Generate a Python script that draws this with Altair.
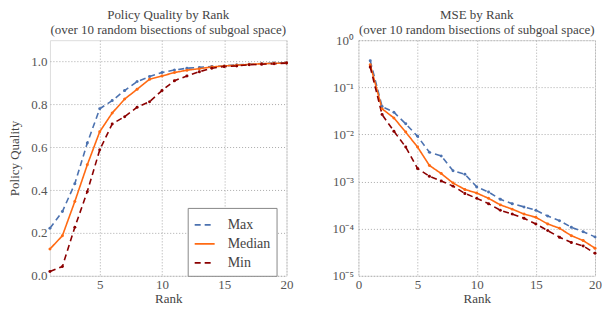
import altair as alt
import pandas as pd

series = ["Max", "Median", "Min"]
colors = ["#4C72B0", "#FF6A13", "#8B0000"]
dashes = [[6, 4], [1, 0], [6, 4]]

rank_q = list(range(1, 21))
q_max = [0.222, 0.30, 0.43, 0.62, 0.78, 0.818, 0.865, 0.907, 0.93, 0.949,
         0.961, 0.969, 0.973, 0.977, 0.98, 0.985, 0.988, 0.991, 0.993, 0.995]
q_med = [0.125, 0.187, 0.347, 0.518, 0.673, 0.76, 0.825, 0.871, 0.918, 0.933,
         0.949, 0.96, 0.967, 0.975, 0.98, 0.983, 0.987, 0.99, 0.992, 0.993]
q_min = [0.02, 0.043, 0.227, 0.393, 0.588, 0.709, 0.743, 0.787, 0.813, 0.865,
         0.911, 0.933, 0.953, 0.969, 0.977, 0.98, 0.985, 0.988, 0.99, 0.993]

rank_m = list(range(1, 21))
m_max = [0.365, 0.039, 0.0296, 0.0168, 0.0091, 0.0042, 0.0035, 0.0017, 0.00143, 0.00077,
         0.0006, 0.00042, 0.00034, 0.00029, 0.000246, 0.000185, 0.000148, 0.000107, 0.000086, 0.000067]
m_med = [0.30, 0.035, 0.0224, 0.0112, 0.0054, 0.0022, 0.00148, 0.00093, 0.00068, 0.00057,
         0.00044, 0.00032, 0.00026, 0.000204, 0.000174, 0.000126, 0.000102, 0.000071, 0.000056, 0.0000385]
m_min = [0.27, 0.0264, 0.0117, 0.0054, 0.0019, 0.0013, 0.00103, 0.0008, 0.00056, 0.00044,
         0.00034, 0.000246, 0.000204, 0.000166, 0.000126, 0.000091, 0.000066, 0.000051, 0.000043, 0.00003]

def long(ranks, cols):
    rows = []
    for name, vals in zip(series, cols):
        for r, v in zip(ranks, vals):
            rows.append({"Rank": r, "value": v, "series": name})
    return pd.DataFrame(rows)

dq = long(rank_q, [q_max, q_med, q_min])
dm = long(rank_m, [m_max, m_med, m_min])

FONT = "Liberation Serif"
W, H = 237, 236

def legend(x, y):
    return alt.Legend(title=None, orient="none", legendX=x, legendY=y,
                      symbolType="stroke", symbolSize=400, symbolStrokeWidth=1.8,
                      labelFontSize=14, labelFont=FONT, labelColor="#444",
                      strokeColor="#888", fillColor="white", padding=6,
                      rowPadding=1, cornerRadius=0, labelOffset=12)

def panel(df, title, yenc, x_scale, x_axis, leg, dy):
    color = alt.Color("series:N", scale=alt.Scale(domain=series, range=colors), legend=leg)
    dash = alt.StrokeDash("series:N", scale=alt.Scale(domain=series, range=dashes), legend=leg)
    base = alt.Chart(df).encode(
        x=alt.X("Rank:Q", scale=x_scale, axis=x_axis),
        y=yenc,
        color=color,
    )
    lines = base.mark_line(strokeWidth=1.6).encode(strokeDash=dash)
    pts = base.mark_point(filled=True, size=9, opacity=1)
    return alt.layer(lines, pts).properties(
        width=W, height=H,
        title=alt.Title(title, fontSize=13, font=FONT, color="#444", fontWeight="normal",
                        offset=3, lineHeight=15, dy=dy),
    )

axis_common = dict(grid=True, gridDash=[1, 2], gridColor="#aaa", gridWidth=1,
                   ticks=False, domain=False, labelFont=FONT, labelFontSize=13,
                   labelColor="#555", titleFont=FONT, titleFontSize=13,
                   titleColor="#444", titleFontWeight="normal", labelPadding=3)

left = panel(
    dq,
    ["Policy Quality by Rank", "(over 10 random bisections of subgoal space)"],
    alt.Y("value:Q", title="Policy Quality",
          scale=alt.Scale(domain=[0, 1.1], nice=False, zero=False),
          axis=alt.Axis(values=[0, 0.2, 0.4, 0.6, 0.8, 1.0], format=".1f",
                        titlePadding=9, **axis_common)),
    alt.Scale(domain=[1, 20], nice=False, zero=False),
    alt.Axis(values=[5, 10, 15, 20], title="Rank", labelFlush=False, titlePadding=1,
             **axis_common),
    legend(138, 168),
    0,
)

sup = ("datum.value >= 0.5 ? '10⁰' : datum.value >= 0.05 ? '10⁻¹' : "
       "datum.value >= 0.005 ? '10⁻²' : datum.value >= 0.0005 ? '10⁻³' : "
       "datum.value >= 0.00005 ? '10⁻⁴' : '10⁻⁵'")

right = panel(
    dm,
    ["MSE by Rank", "(over 10 random bisections of subgoal space)"],
    alt.Y("value:Q", title=None,
          scale=alt.Scale(type="log", domain=[1e-5, 1], nice=False),
          axis=alt.Axis(values=[1, 0.1, 0.01, 0.001, 0.0001, 0.00001], labelExpr=sup,
                        labelPadding=5, **{k: v for k, v in axis_common.items() if k != "labelPadding"})),
    alt.Scale(domain=[0, 20], nice=False, zero=False),
    alt.Axis(values=[0, 5, 10, 15, 20], title="Rank", labelFlush=False, titlePadding=1,
             **axis_common),
    legend(138, 6),
    6,
)

chart = alt.hconcat(left, right, spacing=37).configure_view(stroke=None).configure(
    background="white", font=FONT, padding={"left": 0, "top": 0, "right": 0, "bottom": 0}
)

chart.save("out.html", embed_options={"renderer": "svg", "actions": False})
